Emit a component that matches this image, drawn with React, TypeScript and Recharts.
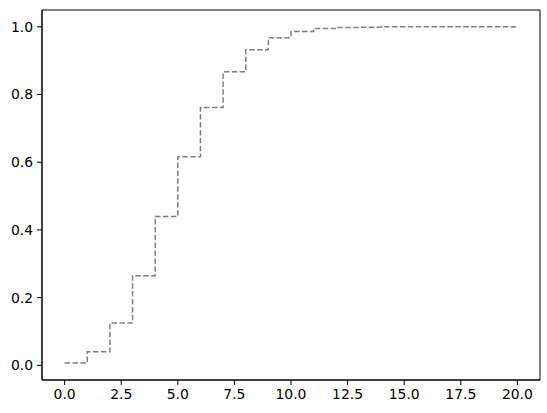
import React from 'react';
import { LineChart, Line, XAxis, YAxis, ReferenceArea } from 'recharts';

const xs = [0, 1, 2, 3, 4, 5, 6, 7, 8, 9, 10, 11, 12, 13, 14, 15, 16, 17, 18, 19, 20];
const cdf = [
  0.007, 0.040, 0.125, 0.265, 0.440, 0.616, 0.762, 0.867, 0.932, 0.968,
  0.986, 0.995, 0.998, 0.999, 1.0, 1.0, 1.0, 1.0, 1.0, 1.0, 1.0,
];
const xTicks = [0, 2.5, 5, 7.5, 10, 12.5, 15, 17.5, 20];
const yTicks = [0, 0.2, 0.4, 0.6, 0.8, 1.0];

const data = xs.map((x, i) => ({ x, y: cdf[i] }));

const font = { fill: '#000', fontSize: 13.9, fontFamily: 'DejaVu Sans' };

export default function App() {
  return (
    <div style={{ position: 'absolute', left: 0, top: 0, background: '#fff' }}>
      <LineChart width={547} height={413} data={data} margin={{ top: 10, right: 7, left: 0, bottom: 0 }}>
        <XAxis
          dataKey="x"
          type="number"
          domain={[-1, 21]}
          ticks={xTicks}
          allowDataOverflow
          height={33}
          tickSize={5}
          tickMargin={4}
          tick={font}
          stroke="#000"
          tickFormatter={(v: number) => v.toFixed(1)}
        />
        <YAxis
          type="number"
          domain={[-0.0433, 1.0497]}
          ticks={yTicks}
          allowDataOverflow
          width={42}
          tickSize={5}
          tickMargin={4}
          tick={font}
          stroke="#000"
          tickFormatter={(v: number) => v.toFixed(1)}
        />
        <ReferenceArea x1={-1} x2={21} y1={-0.0433} y2={1.0497} fill="none" stroke="#000" strokeWidth={1} />
        <Line
          type="stepAfter"
          dataKey="y"
          stroke="#808080"
          strokeWidth={1.5}
          strokeDasharray="5.5 2.4"
          dot={false}
          isAnimationActive={false}
        />
      </LineChart>
    </div>
  );
}
